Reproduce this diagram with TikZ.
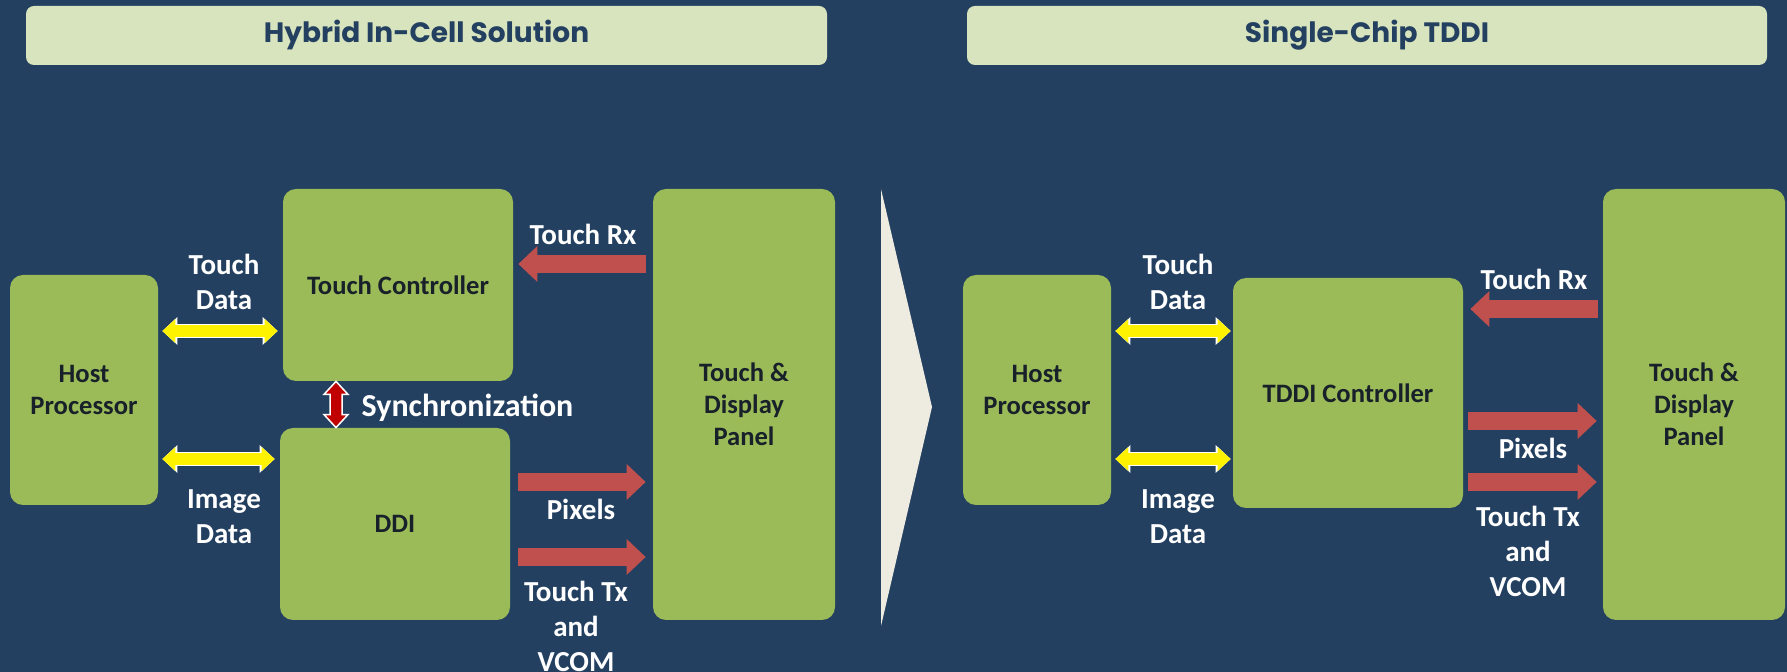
\documentclass[tikz,border=0pt]{standalone}
\usepackage{fontspec}
\setmainfont{Carlito}
\newfontfamily\headfont{Poppins}
\usetikzlibrary{arrows.meta,calc}

\definecolor{bgblue}{RGB}{36,64,97}
\definecolor{headgreen}{RGB}{215,228,189}
\definecolor{boxgreen}{RGB}{155,187,89}
\definecolor{boxtext}{RGB}{24,32,42}
\definecolor{linkred}{RGB}{192,80,77}
\definecolor{syncred}{RGB}{192,0,0}
\definecolor{chevgrey}{RGB}{238,236,225}

\begin{document}
\begin{tikzpicture}[x=0.5pt, y=-0.5pt,
    block/.style={fill=boxgreen, rounded corners=6.5pt, inner sep=0pt, align=center,
        text=boxtext, font=\bfseries\fontsize{13.3}{16}\selectfont},
    headbar/.style={fill=headgreen, rounded corners=4pt, minimum height=29.5pt,
        text=bgblue, font=\headfont\bfseries\fontsize{14}{17}\selectfont},
    lbl/.style={text=white, align=center, font=\bfseries\fontsize{14.5}{17.5}\selectfont},
    rim/.style={draw=white, line width=7pt,
        {Triangle[length=7.5pt,width=14pt,line width=0pt]}-{Triangle[length=7.5pt,width=14pt,line width=0pt]}},
    datalink/.style={draw=yellow, line width=6pt,
        {Triangle[length=6.5pt,width=12pt,line width=0pt]}-{Triangle[length=6.5pt,width=12pt,line width=0pt]}},
    synclink/.style={draw=white, line width=0.75pt, fill=syncred, line join=miter},
    sig/.style={draw=linkred, line width=9pt, -{Triangle[length=9.5pt,width=18pt,line width=0pt]}}]
    \fill[bgblue] (0,0) rectangle (1787,672);
    \useasboundingbox (0,0) rectangle (1787,672);

    % hybrid in-cell
    \node[headbar, minimum width=400.5pt] (headL) at (426.5,35.5) {Hybrid In-Cell Solution};
    \node[block, minimum width=74pt, minimum height=115pt] (hostL) at (84,390) {Host\\Processor};
    \node[block, minimum width=115pt, minimum height=96pt] (tc) at (398,285) {Touch Controller};
    \node[block, minimum width=115pt, minimum height=96pt] (ddi) at (395,524) {DDI};
    \node[block, minimum width=91pt, minimum height=215.5pt] (panelL) at (744,404.5) {Touch \&\\Display\\Panel};

    \foreach \y/\to in {331/tc, 459/ddi} {
        \draw[rim, shorten <=2pt, shorten >=2.5pt] (hostL.east |- 0,\y) -- (\to.west |- 0,\y);
        \draw[datalink, shorten <=2pt, shorten >=2.5pt] (hostL.east |- 0,\y) -- (\to.west |- 0,\y);
    }
    \coordinate (syncA) at (tc.south -| 336,0);
    \coordinate (syncB) at (ddi.north -| 336,0);
    \draw[synclink] (syncA) -- ++(12,13) -- ++(-6,0) -- ($(syncB)+(6,-13)$) -- ++(6,0)
        -- (syncB) -- ++(-12,-13) -- ++(6,0) -- ($(syncA)+(-6,13)$) -- ++(-6,0) -- cycle;

    \draw[sig, shorten <=3.5pt, shorten >=2.5pt] (panelL.west |- 0,264) -- (tc.east |- 0,264);
    \draw[sig, shorten <=4pt, shorten >=3.5pt] (ddi.east |- 0,482) -- (panelL.west |- 0,482);
    \draw[sig, shorten <=4pt, shorten >=3.5pt] (ddi.east |- 0,557) -- (panelL.west |- 0,557);

    \node[lbl] (tdL) at (224,281.5) {Touch\\Data};
    \node[lbl] (idL) at (224,516.5) {Image\\Data};
    \node[lbl, font=\bfseries\fontsize{16}{19}\selectfont] (syncL) at (467.5,408) {Synchronization};
    \node[lbl] (rxL) at (583,234) {Touch Rx};
    \node[lbl] (pxL) at (581,509) {Pixels};
    \node[lbl] (txL) at (576,626) {Touch Tx\\and\\VCOM};

    \fill[chevgrey] (881,189) -- (932,407) -- (881,626) -- cycle;

    % single-chip tddi
    \node[headbar, minimum width=400pt] (headR) at (1367,35.5) {Single-Chip TDDI};
    \node[block, minimum width=74pt, minimum height=115pt] (hostR) at (1037,390) {Host\\Processor};
    \node[block, minimum width=115pt, minimum height=115pt] (tddi) at (1348,393) {TDDI Controller};
    \node[block, minimum width=91pt, minimum height=215.5pt] (panelR) at (1694,404.5) {Touch \&\\Display\\Panel};

    \foreach \y in {331, 459} {
        \draw[rim, shorten <=2pt, shorten >=1pt] (hostR.east |- 0,\y) -- (tddi.west |- 0,\y);
        \draw[datalink, shorten <=2pt, shorten >=1pt] (hostR.east |- 0,\y) -- (tddi.west |- 0,\y);
    }
    \draw[sig, shorten <=2.5pt, shorten >=3.5pt] (panelR.west |- 0,309) -- (tddi.east |- 0,309);
    \draw[sig, shorten <=2.5pt, shorten >=3pt] (tddi.east |- 0,421) -- (panelR.west |- 0,421);
    \draw[sig, shorten <=2.5pt, shorten >=3pt] (tddi.east |- 0,482) -- (panelR.west |- 0,482);

    \node[lbl] (tdR) at (1178,281.5) {Touch\\Data};
    \node[lbl] (idR) at (1178,516.5) {Image\\Data};
    \node[lbl] (rxR) at (1534,279) {Touch Rx};
    \node[lbl] (pxR) at (1533,448) {Pixels};
    \node[lbl] (txR) at (1528,551) {Touch Tx\\and\\VCOM};
\end{tikzpicture}
\end{document}
